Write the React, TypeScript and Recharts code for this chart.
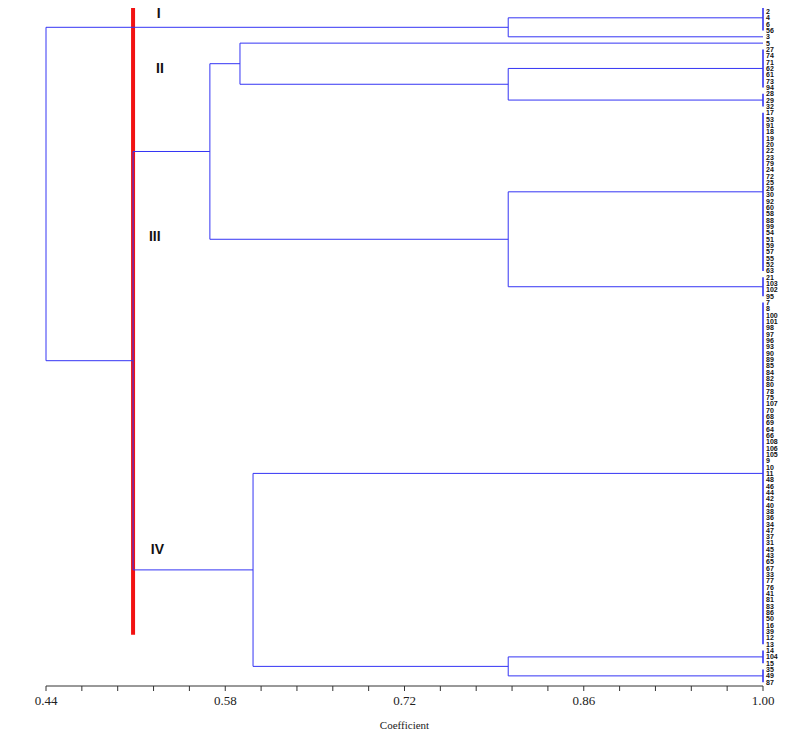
import React from "react";
import { ScatterChart, Scatter, XAxis, YAxis, ReferenceLine } from "recharts";

// leaf labels, top to bottom
const leafLabels = [
  "1", "2", "4", "6", "56",
  "3",
  "5",
  "27", "74", "71", "62", "61", "73", "94",
  "28", "29", "32",
  "17", "53", "91", "18", "19", "20", "22", "23", "79", "24", "72", "25", "26",
  "30", "92", "60", "58", "88", "99", "54", "51", "59", "57", "55", "52", "63",
  "21", "103", "102", "95",
  "7", "8", "100", "101", "98", "97", "96", "93", "90", "89", "85", "84", "82",
  "80", "78", "75", "107", "70", "68", "69", "64", "66", "108", "106", "105", "9",
  "10", "11", "48", "46", "44", "42", "40", "38", "36", "34", "47", "37", "31",
  "45", "43", "65", "67", "33", "77", "76", "41", "81", "83", "86", "50", "16",
  "39", "12", "13",
  "14", "104", "15",
  "35", "49", "87",
];

// consecutive leaves joined at coefficient 1.00
const groupSizes = [5, 1, 1, 7, 3, 26, 4, 55, 3, 3];

// [left, right, coefficient]; gN = leaf group, mN = earlier merge
const merges: [string, string, number][] = [
  ["g0", "g1", 0.801],
  ["g3", "g4", 0.801],
  ["g2", "m1", 0.5915],
  ["g5", "g6", 0.801],
  ["m2", "m3", 0.568],
  ["g8", "g9", 0.801],
  ["g7", "m5", 0.6017],
  ["m4", "m6", 0.508],
  ["m0", "m7", 0.44],
];

const majorTicks = [0.44, 0.58, 0.72, 0.86, 1.0];
const minorTicks = [
  0.468, 0.496, 0.524, 0.552, 0.608, 0.636, 0.664, 0.692,
  0.748, 0.776, 0.804, 0.832, 0.888, 0.916, 0.944, 0.972,
];

const cutLevel = 0.508;
const cutSpan = [0.45, 99.5];

const clusterNames = ["I", "II", "III", "IV"];
const clusterX = [0.528, 0.529, 0.525, 0.527];
const clusterY = [1.23, 9.9, 36.5, 86.0];

const BLUE = "#3434f4";

type Pt = { x: number; y: number };

function buildSegments() {
  const nodes: Record<string, { y: number; h: number }> = {};
  const segs: { pts: Pt[]; leaf: boolean }[] = [];
  let start = 0;
  groupSizes.forEach((size, i) => {
    const first = start;
    const last = start + size - 1;
    nodes["g" + i] = { y: (first + last) / 2, h: 1 };
    if (size > 1) segs.push({ pts: [{ x: 1, y: first }, { x: 1, y: last }], leaf: true });
    start += size;
  });
  merges.forEach(([a, b, h], i) => {
    const A = nodes[a];
    const B = nodes[b];
    segs.push({
      pts: [
        { x: A.h, y: A.y },
        { x: h, y: A.y },
        { x: h, y: B.y },
        { x: B.h, y: B.y },
      ],
      leaf: false,
    });
    nodes["m" + i] = { y: (A.y + B.y) / 2, h };
  });
  return segs;
}

const segments = buildSegments();
const leafPoints = leafLabels.map((name, i) => ({ x: 1, y: i, name }));
const xTicks = [...majorTicks, ...minorTicks].sort((a, b) => a - b);
const labelPoints = clusterNames.map((name, i) => ({ x: clusterX[i], y: clusterY[i], name }));

function fmtX(v: number) {
  return majorTicks.some((m) => Math.abs(m - v) < 1e-6) ? v.toFixed(2) : "";
}

function LeafLabel(props: any) {
  const { cx, cy, payload } = props;
  return (
    <text x={cx + 3} y={cy + 2.5} textAnchor="start"
      fontFamily="Liberation Sans, Arial, sans-serif" fontSize={7} fontWeight="bold" fill="#111">
      {payload.name}
    </text>
  );
}

function RomanLabel(props: any) {
  const { cx, cy, payload } = props;
  return (
    <text x={cx} y={cy} textAnchor="middle" dominantBaseline="central"
      fontFamily="Liberation Sans, Arial, sans-serif" fontWeight="bold" fontSize={14} fill="#111">
      {payload.name}
    </text>
  );
}

export default function App() {
  return (
    <div style={{ marginLeft: -8, marginTop: -8, width: 800, height: 739, background: "#fff" }}>
      <ScatterChart width={800} height={739} margin={{ top: 2, right: 37, bottom: 10, left: 46 }}>
        <XAxis
          type="number"
          dataKey="x"
          domain={[0.44, 1.0]}
          ticks={xTicks}
          interval={0}
          tickFormatter={fmtX}
          height={43}
          tickSize={5}
          tickMargin={5}
          stroke="#333"
          tick={{ fill: "#222", fontSize: 13, fontFamily: "Liberation Serif, serif" }}
          label={{ value: "Coefficient", position: "insideBottom", offset: 0, fill: "#222", fontSize: 11, fontFamily: "Liberation Serif, serif" }}
        />
        <YAxis type="number" dataKey="y" reversed domain={[-0.5, 107.6]} hide />
        {segments.map((seg, i) => (
          <Scatter
            key={i}
            data={seg.pts}
            line={{ stroke: BLUE, strokeWidth: seg.leaf ? 1.6 : 1 }}
            shape={() => <g />}
            legendType="none"
            isAnimationActive={false}
          />
        ))}
        <ReferenceLine
          segment={[{ x: cutLevel, y: cutSpan[0] }, { x: cutLevel, y: cutSpan[1] }]}
          stroke="#f21212"
          strokeWidth={4}
        />
        <Scatter data={leafPoints} shape={LeafLabel} legendType="none" isAnimationActive={false} />
        <Scatter data={labelPoints} shape={RomanLabel} legendType="none" isAnimationActive={false} />
      </ScatterChart>
    </div>
  );
}
